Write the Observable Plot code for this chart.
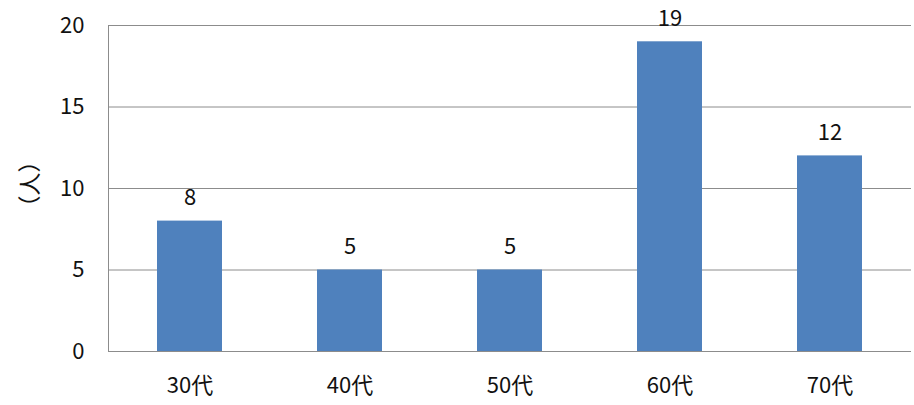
<!DOCTYPE html>
<html>
<head>
<meta charset="utf-8">
<script src="https://cdn.jsdelivr.net/npm/d3@7"></script>
<script src="https://cdn.jsdelivr.net/npm/@observablehq/plot@0.6"></script>
<style>
  html, body { margin: 0; padding: 0; background: #fff; }
  #chart svg { display: block; }
</style>
</head>
<body>
<div id="chart"></div>
<script>
const categories = ["30代", "40代", "50代", "60代", "70代"];
const counts = [8, 5, 5, 19, 12];
const yTicks = [0, 5, 10, 15, 20];
const yLabel = "（人）";

const data = categories.map((c, i) => ({category: c, count: counts[i]}));
const font = "'Noto Sans CJK JP', 'Noto Sans', sans-serif";
const gridColor = "#8c8c8c";
const textColor = "#111";

const chart = Plot.plot({
  width: 914,
  height: 405,
  marginLeft: 108,
  marginRight: 3,
  marginTop: 25,
  marginBottom: 54,
  style: {fontFamily: font, fontSize: "22px", color: textColor, background: "#fff"},
  x: {type: "band", domain: categories, paddingInner: 0.595, paddingOuter: 0.2975, label: null},
  y: {domain: [0, 20], label: null},
  marks: [
    Plot.gridY(yTicks, {stroke: gridColor, strokeOpacity: 1, strokeWidth: 1}),
    Plot.frame({anchor: "left", stroke: gridColor, strokeWidth: 1}),
    Plot.barY(data, {x: "category", y: "count", fill: "#4F81BD"}),
    Plot.text(data, {x: "category", y: "count", text: d => String(d.count), lineAnchor: "bottom", dy: -16, fill: textColor, fontSize: 22}),
    Plot.axisY({ticks: yTicks, tickSize: 0, tickPadding: 24, label: null, fontSize: 22, fill: textColor}),
    Plot.axisX({tickSize: 0, tickPadding: 26, label: null, fontSize: 22, fill: textColor}),
    Plot.text([yLabel], {frameAnchor: "left", text: d => d, rotate: -90, dx: -78, dy: 30, fontSize: 23, fill: textColor})
  ]
});
document.getElementById("chart").appendChild(chart);
</script>
</body>
</html>
